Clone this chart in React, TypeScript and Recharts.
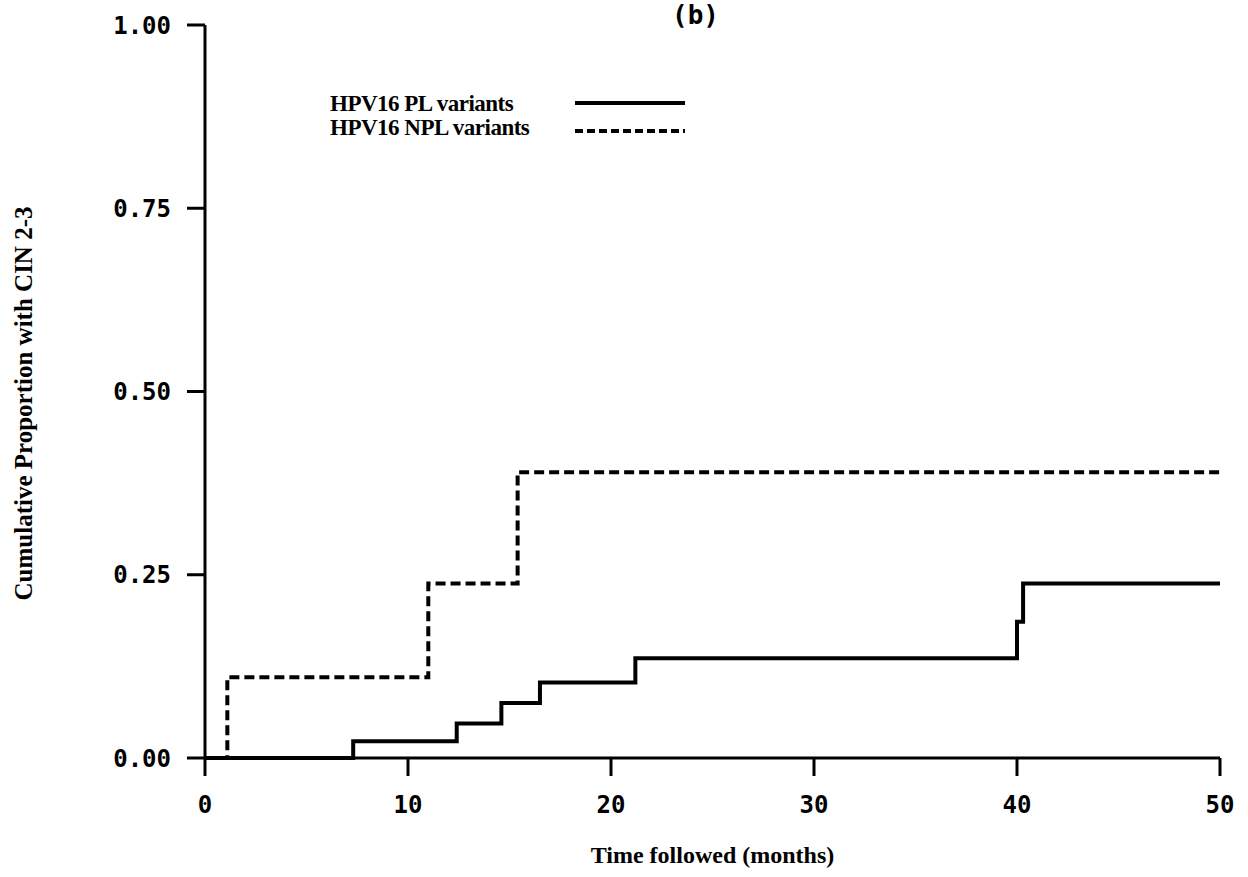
import { LineChart, Line, XAxis, YAxis, Legend, Label } from "recharts";

// step times (months) and cumulative proportions
const plTime = [0, 7.3, 12.4, 14.6, 16.5, 21.2, 40.0, 40.3, 50];
const plValue = [0, 0.023, 0.047, 0.075, 0.103, 0.136, 0.186, 0.238, 0.238];
const nplTime = [0, 1.1, 11.0, 15.4, 50];
const nplValue = [0, 0.11, 0.238, 0.39, 0.39];

const xTicks = [0, 10, 20, 30, 40, 50];
const yTicks = [0, 0.25, 0.5, 0.75, 1];
const seriesNames = ["HPV16 PL variants", "HPV16 NPL variants"];

const pl = plTime.map((t, i) => ({ t, v: plValue[i] }));
const npl = nplTime.map((t, i) => ({ t, v: nplValue[i] }));

const tickFont = {
  fontFamily: "'DejaVu Sans Mono', monospace",
  fontWeight: 700,
  fontSize: 24,
  fill: "#000",
};
const serif = "'Liberation Serif', 'DejaVu Serif', serif";

function renderLegend() {
  return (
    <div style={{ fontFamily: serif, fontWeight: 700, fontSize: 23, color: "#000" }}>
      {seriesNames.map((name, i) => (
        <div key={name} style={{ display: "flex", alignItems: "center", height: 24 }}>
          <span style={{ width: 245, whiteSpace: "nowrap", letterSpacing: -0.5 }}>{name}</span>
          <svg width={110} height={12}>
            <line
              x1={0}
              y1={i === 0 ? 5 : 9}
              x2={110}
              y2={i === 0 ? 5 : 9}
              stroke="#000"
              strokeWidth={4}
              strokeDasharray={i === 0 ? undefined : "8 4"}
            />
          </svg>
        </div>
      ))}
    </div>
  );
}

export default function App() {
  return (
    <div style={{ position: "relative", width: 1248, height: 877, background: "#fff" }}>
      <style>{"body{margin:0}"}</style>
      <div
        style={{
          position: "absolute",
          left: 672,
          top: 0,
          fontFamily: "'DejaVu Sans Mono', monospace",
          fontWeight: 700,
          fontSize: 26,
        }}
      >
        (b)
      </div>
      <LineChart width={1248} height={877} margin={{ top: 25, right: 28, bottom: 0, left: 0 }}>
        <XAxis
          type="number"
          dataKey="t"
          domain={[0, 50]}
          ticks={xTicks}
          height={119}
          tickSize={18}
          tickMargin={20}
          stroke="#000"
          strokeWidth={3}
          tick={tickFont}
          allowDuplicatedCategory={false}
        >
          <Label
            value="Time followed (months)"
            position="insideBottom"
            offset={14}
            style={{ fontFamily: serif, fontWeight: 700, fontSize: 24, fill: "#000" }}
          />
        </XAxis>
        <YAxis
          type="number"
          domain={[0, 1]}
          ticks={yTicks}
          width={205}
          tickSize={18}
          tickMargin={16}
          stroke="#000"
          strokeWidth={3}
          tick={tickFont}
          tickFormatter={(v: number) => v.toFixed(2)}
        >
          <Label
            content={({ viewBox }: any) => {
              const cy = viewBox.y + viewBox.height / 2 + 12;
              return (
                <text
                  x={23}
                  y={cy}
                  transform={`rotate(-90, 23, ${cy})`}
                  textAnchor="middle"
                  dominantBaseline="central"
                  style={{ fontFamily: serif, fontWeight: 700, fontSize: 25, fill: "#000" }}
                >
                  Cumulative Proportion with CIN 2-3
                </text>
              );
            }}
          />
        </YAxis>
        <Legend
          layout="vertical"
          align="center"
          verticalAlign="middle"
          content={renderLegend}
          wrapperStyle={{ left: 330, top: 92, width: 400, height: 50 }}
        />
        <Line
          data={pl}
          dataKey="v"
          name={seriesNames[0]}
          type="stepAfter"
          stroke="#000"
          strokeWidth={4}
          dot={false}
          isAnimationActive={false}
        />
        <Line
          data={npl}
          dataKey="v"
          name={seriesNames[1]}
          type="stepAfter"
          stroke="#000"
          strokeWidth={4}
          strokeDasharray="10 5"
          dot={false}
          isAnimationActive={false}
        />
      </LineChart>
    </div>
  );
}
